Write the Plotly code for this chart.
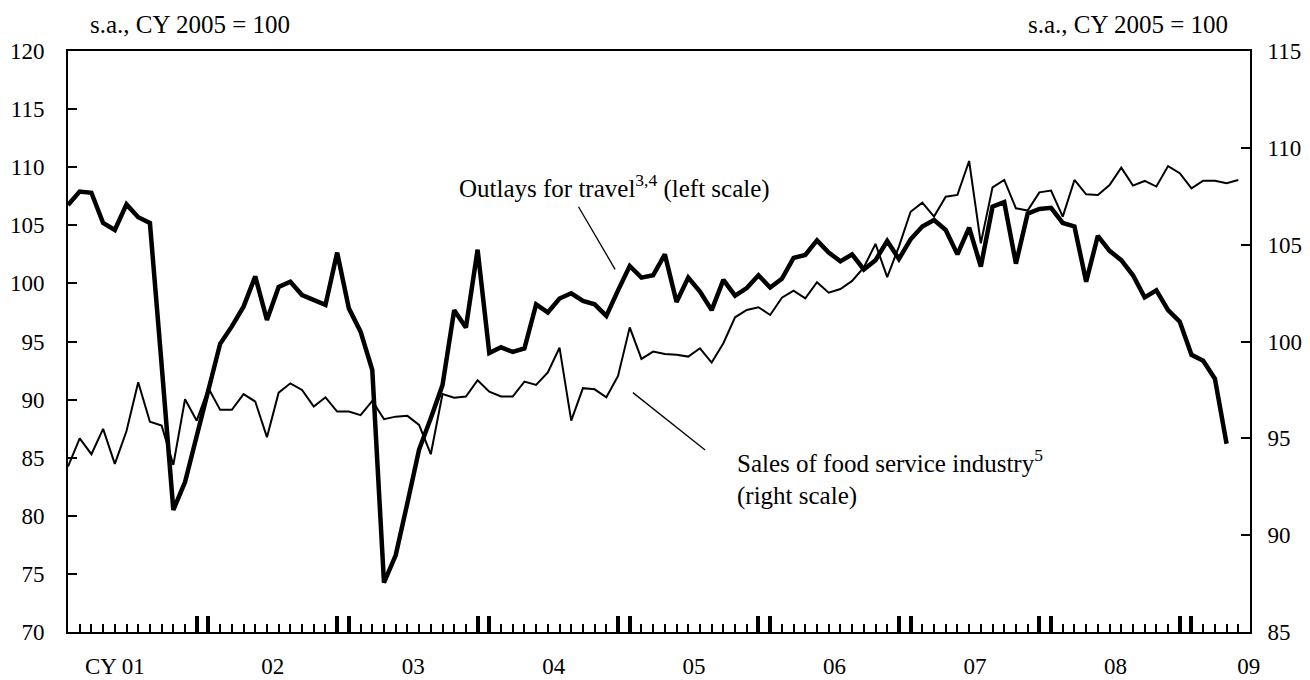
import plotly.graph_objects as go

# Monthly data, Jan 2001 (index 0) onward
travel = [
    106.75, 107.9, 107.8, 105.2, 104.6, 106.8, 105.7, 105.2, 93.0, 80.5, 82.9, 86.9,      # 2001
    90.8, 94.8, 96.3, 98.0, 100.6, 96.85, 99.7, 100.15, 99.0, 98.6, 98.15, 102.65,        # 2002
    97.85, 95.85, 92.55, 74.25, 76.6, 81.1, 85.7, 88.4, 91.25, 97.7, 96.2, 102.9,         # 2003
    94.0, 94.5, 94.1, 94.4, 98.2, 97.5, 98.7, 99.15, 98.5, 98.2, 97.2, 99.4,              # 2004
    101.5, 100.5, 100.7, 102.5, 98.4, 100.5, 99.3, 97.7, 100.3, 98.95, 99.6, 100.7,       # 2005
    99.65, 100.4, 102.2, 102.45, 103.7, 102.65, 101.9, 102.5, 101.2, 102.0, 103.65, 102.1,# 2006
    103.8, 104.9, 105.45, 104.6, 102.5, 104.8, 101.45, 106.6, 107.0, 101.7, 106.0, 106.4, # 2007
    106.5, 105.2, 104.9, 100.15, 104.1, 102.8, 102.0, 100.7, 98.8, 99.4, 97.7, 96.7,      # 2008
    93.85, 93.35, 91.8, 86.2,                                                             # 2009
]
food = [
    93.54, 95.0, 94.18, 95.49, 93.68, 95.38, 97.9, 95.86, 95.66, 93.63, 97.02, 95.91,
    97.59, 96.47, 96.47, 97.28, 96.9, 95.06, 97.36, 97.84, 97.5, 96.64, 97.12, 96.38,
    96.38, 96.2, 96.93, 95.99, 96.12, 96.16, 95.69, 94.18, 97.29, 97.1, 97.16, 98.0,
    97.41, 97.16, 97.16, 97.93, 97.76, 98.4, 99.68, 95.91, 97.59, 97.53, 97.12, 98.22,
    100.73, 99.1, 99.48, 99.36, 99.31, 99.22, 99.65, 98.91, 99.91, 101.25, 101.63, 101.77,
    101.37, 102.26, 102.63, 102.23, 103.06, 102.52, 102.71, 103.13, 103.83, 105.04, 103.32, 104.9,
    106.7, 107.17, 106.45, 107.48, 107.57, 109.32, 105.07, 107.96, 108.34, 106.88, 106.76, 107.7,
    107.79, 106.45, 108.34, 107.6, 107.57, 108.08, 108.98, 108.05, 108.29, 108.0, 109.06, 108.69,
    107.91, 108.3, 108.3, 108.17, 108.34,
]
year_labels = ["CY 01", "02", "03", "04", "05", "06", "07", "08", "09"]
year_label_pos = [4.0, 17.5, 29.5, 41.5, 53.5, 65.5, 77.5, 89.5, 100.9]
year_marks = [m for y in range(8) for m in (11 + 12 * y, 12 + 12 * y)]

months_travel = list(range(len(travel)))
months_food = list(range(len(food)))

FONT = "Liberation Serif"
XR = [0, 101]

fig = go.Figure()
fig.add_trace(go.Scatter(x=months_food, y=food, mode="lines", yaxis="y2",
                         line=dict(color="black", width=2), name="Sales of food service industry"))
fig.add_trace(go.Scatter(x=months_travel, y=travel, mode="lines", yaxis="y",
                         line=dict(color="black", width=4.5), name="Outlays for travel"))
# carriers for the overlay tick axes
fig.add_trace(go.Scatter(x=[0], y=[70], xaxis="x2", mode="markers", marker=dict(opacity=0),
                         showlegend=False, hoverinfo="skip"))
fig.add_trace(go.Scatter(x=[0], y=[70], xaxis="x3", mode="markers", marker=dict(opacity=0),
                         showlegend=False, hoverinfo="skip"))

fig.update_layout(
    width=1302, height=672,
    margin=dict(l=60, r=60, t=43, b=48),
    paper_bgcolor="white", plot_bgcolor="white",
    showlegend=False,
    font=dict(family=FONT, size=23, color="black"),
    xaxis=dict(range=XR, showgrid=False, zeroline=False, automargin=False,
               showline=True, mirror=True, linecolor="black", linewidth=2,
               tickmode="array", tickvals=year_label_pos, ticktext=year_labels,
               ticks="", ticklabelstandoff=12, tickfont=dict(family=FONT, size=23)),
    xaxis2=dict(range=XR, overlaying="x", anchor="y", side="bottom", automargin=False,
                showgrid=False, zeroline=False, showline=False,
                tickmode="linear", tick0=0, dtick=1,
                ticks="inside", ticklen=8, tickwidth=2, tickcolor="black",
                showticklabels=False),
    xaxis3=dict(range=XR, overlaying="x", anchor="y", side="bottom", automargin=False,
                showgrid=False, zeroline=False, showline=False,
                tickmode="array", tickvals=year_marks,
                ticks="inside", ticklen=16, tickwidth=4, tickcolor="black",
                showticklabels=False),
    yaxis=dict(range=[70, 120], dtick=5, tick0=70, showgrid=False, zeroline=False,
               automargin=False,
               showline=True, linecolor="black", linewidth=2,
               ticks="inside", ticklen=9, tickwidth=2, tickcolor="black",
               ticklabelstandoff=17, tickfont=dict(family=FONT, size=23)),
    yaxis2=dict(range=[85, 115], dtick=5, tick0=85, overlaying="y", side="right",
                automargin=False, showgrid=False, zeroline=False,
                showline=True, linecolor="black", linewidth=2,
                ticks="inside", ticklen=9, tickwidth=2, tickcolor="black",
                ticklabelstandoff=11, tickfont=dict(family=FONT, size=23)),
)

ann_font = dict(family=FONT, size=25, color="black")
fig.add_annotation(x=0.017, y=1.045, xref="paper", yref="paper", xanchor="left", yanchor="middle",
                   text="s.a., CY 2005 = 100", showarrow=False, font=ann_font)
fig.add_annotation(x=0.983, y=1.045, xref="paper", yref="paper", xanchor="right", yanchor="middle",
                   text="s.a., CY 2005 = 100", showarrow=False, font=ann_font)
fig.add_annotation(x=0.329, y=0.767, xref="paper", yref="paper", xanchor="left", yanchor="middle",
                   text="Outlays for travel<sup>3,4</sup> (left scale)", showarrow=False, font=ann_font)
fig.add_annotation(x=0.5643, y=0.2943, xref="paper", yref="paper", xanchor="left", yanchor="middle",
                   text="Sales of food service industry<sup>5</sup>", showarrow=False, font=ann_font)
fig.add_annotation(x=0.5643, y=0.234, xref="paper", yref="paper", xanchor="left", yanchor="middle",
                   text="(right scale)", showarrow=False, font=ann_font)

# leader lines
fig.add_shape(type="line", xref="x", yref="y", x0=43.62, y0=106.6, x1=46.75, y1=101.21,
              line=dict(color="black", width=1.3))
fig.add_shape(type="line", xref="x", yref="y", x0=48.27, y0=90.6, x1=54.44, y1=85.66,
              line=dict(color="black", width=1.3))

fig.write_html("out.html")
